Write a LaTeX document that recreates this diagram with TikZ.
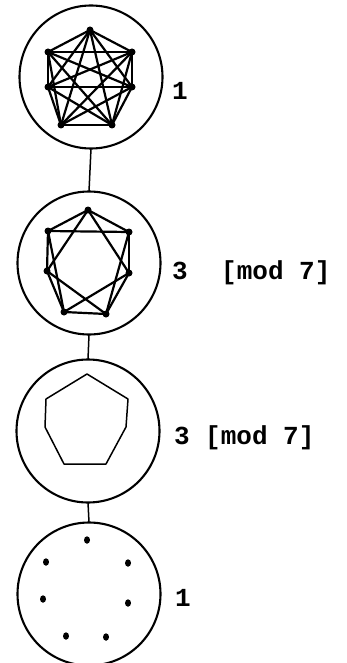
\documentclass[tikz,border=0pt]{standalone}
\usepackage{fontspec}
\setmonofont{Liberation Mono}
\usetikzlibrary{shapes.geometric}
\begin{document}
\begin{tikzpicture}[x=1pt,y=-1pt,
  ring/.style={draw,circle,line width=2.1pt,minimum size=143pt,inner sep=0pt,outer sep=0pt},
  vtx/.style={circle,fill,inner sep=0pt,minimum size=7pt},
  spot/.style={ellipse,fill,inner sep=0pt,minimum width=6pt,minimum height=7.5pt},
  gedge/.style={line width=2.2pt},
  cyc/.style={line width=1.5pt,line join=round},
  conn/.style={line width=1.5pt},
  lab/.style={anchor=base west,inner sep=0pt,font=\bfseries\ttfamily\fontsize{26}{26}\selectfont}]
\useasboundingbox (0,0) rectangle (347,663);
% rings
\node[ring] (c1) at (91,77) {};
\node[ring] (c2) at (89,263) {};
\node[ring] (c3) at (88,431) {};
\node[ring] (c4) at (89,594) {};
\draw[conn] (c1.south) -- (c2.north);
\draw[conn] (c2.south) -- (c3.north);
\draw[conn] (c3.south) -- (c4.north);
% K7
\node[vtx] (a0) at (90,30) {};
\node[vtx] (a1) at (132,52) {};
\node[vtx] (a2) at (132,87) {};
\node[vtx] (a3) at (112,125) {};
\node[vtx] (a4) at (61,125) {};
\node[vtx] (a5) at (48,87) {};
\node[vtx] (a6) at (48,52) {};
\foreach \i in {0,...,6}{\foreach \j in {0,...,6}{\ifnum\i<\j \draw[gedge] (a\i.center) -- (a\j.center);\fi}}
% C7(1,2)
\node[vtx] (b0) at (88,210) {};
\node[vtx] (b1) at (129,232) {};
\node[vtx] (b2) at (129,273) {};
\node[vtx] (b3) at (106,314) {};
\node[vtx] (b4) at (64,312) {};
\node[vtx] (b5) at (47,271) {};
\node[vtx] (b6) at (48,231) {};
\foreach \i [evaluate=\i as \p using {int(mod(\i+1,7))}, evaluate=\i as \q using {int(mod(\i+2,7))}] in {0,...,6}{
  \draw[gedge] (b\i.center) -- (b\p.center);
  \draw[gedge] (b\i.center) -- (b\q.center);}
% C7
\coordinate (d0) at (87,374);
\coordinate (d1) at (128,399);
\coordinate (d2) at (126,427);
\coordinate (d3) at (106,464);
\coordinate (d4) at (64,464);
\coordinate (d5) at (45,427);
\coordinate (d6) at (46,399);
\draw[cyc] (d0) -- (d1) -- (d2) -- (d3) -- (d4) -- (d5) -- (d6) -- cycle;
% empty graph
\node[spot] (e0) at (87,540) {};
\node[spot] (e1) at (128,563) {};
\node[spot] (e2) at (128,603) {};
\node[spot] (e3) at (106,637) {};
\node[spot] (e4) at (66,636) {};
\node[spot] (e5) at (43,599) {};
\node[spot] (e6) at (46,562) {};
% labels
\node[lab] (l1) at (172,100) {1};
\node[lab] (l2) at (172,279) {3};
\node[lab] (m2) at (221,279) {[mod 7]};
\node[lab] (l3) at (174,444) {3};
\node[lab] (m3) at (205,444) {[mod 7]};
\node[lab] (l4) at (175,606) {1};
\end{tikzpicture}
\end{document}
